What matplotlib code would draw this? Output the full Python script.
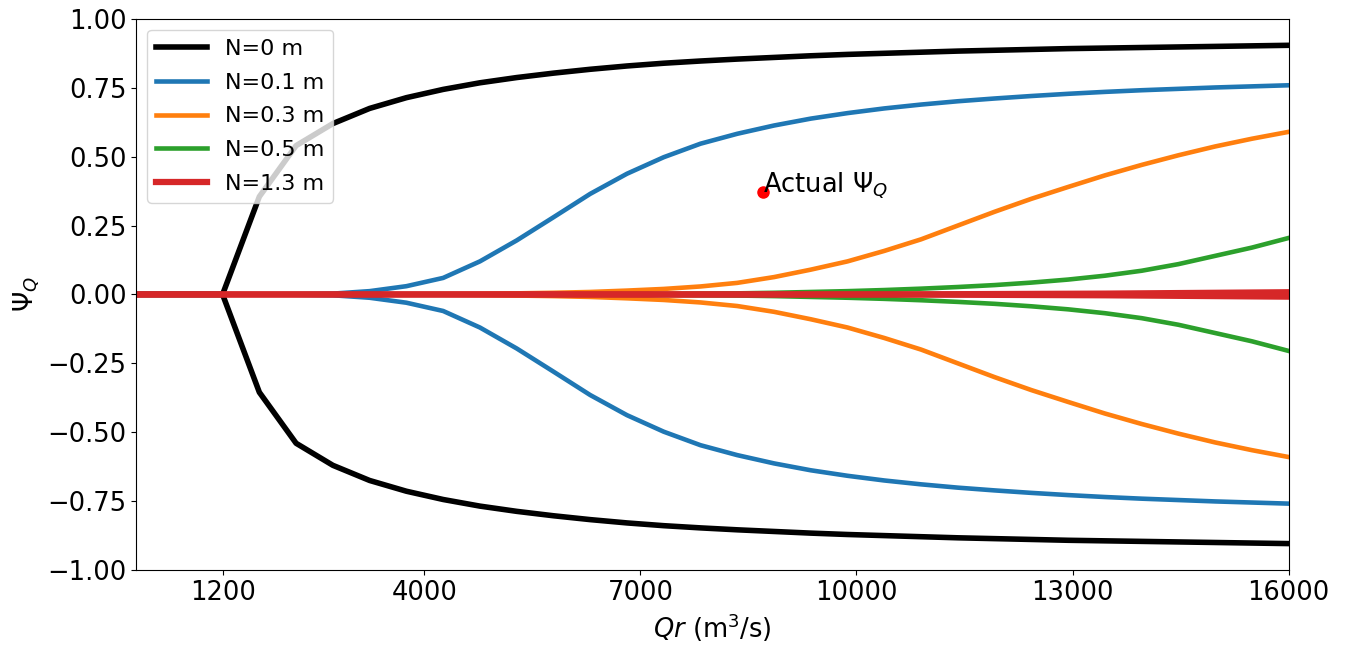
import numpy as np
import matplotlib
matplotlib.use('Agg')
import matplotlib.pyplot as plt

# river discharge grid (m3/s), one leading zero point then evenly spaced from 1200 to 16000
qr = np.concatenate([[0.0], np.linspace(1200, 16000, 30)])

# positive branch of Psi_Q for each N (negative branch is the mirror)
psi_n0 = [0.0, 0.0, 0.355, 0.54, 0.62, 0.675, 0.714, 0.744, 0.768, 0.787, 0.803,
          0.817, 0.829, 0.839, 0.847, 0.854, 0.860, 0.866, 0.871, 0.875, 0.879,
          0.883, 0.886, 0.889, 0.892, 0.894, 0.896, 0.898, 0.900, 0.902, 0.904]
psi_n01 = [0.0, 0.0, 0.0, 0.001, 0.003, 0.012, 0.03, 0.06, 0.12, 0.196, 0.28,
           0.365, 0.438, 0.498, 0.547, 0.583, 0.613, 0.638, 0.658, 0.675, 0.689,
           0.701, 0.711, 0.720, 0.728, 0.735, 0.741, 0.746, 0.751, 0.755, 0.759]
psi_n03 = [0.0, 0.0, 0.0, 0.0, 0.0, 0.0, 0.0005, 0.001, 0.002, 0.004, 0.006,
           0.009, 0.014, 0.02, 0.029, 0.042, 0.063, 0.09, 0.12, 0.158, 0.2,
           0.25, 0.30, 0.347, 0.39, 0.432, 0.47, 0.505, 0.537, 0.565, 0.59]
psi_n05 = [0.0, 0.0, 0.0, 0.0, 0.0, 0.0, 0.0, 0.0, 0.0, 0.0, 0.0,
           0.001, 0.0015, 0.002, 0.003, 0.004, 0.006, 0.009, 0.012, 0.016, 0.021,
           0.027, 0.034, 0.043, 0.054, 0.068, 0.086, 0.11, 0.14, 0.17, 0.205]
psi_n13 = [0.0, 0.0, 0.0, 0.0, 0.0, 0.0, 0.0, 0.0, 0.0, 0.0, 0.0,
           0.0, 0.0, 0.0, 0.0, 0.0, 0.0, 0.0, 0.0, 0.0, 0.0005,
           0.001, 0.0015, 0.002, 0.0025, 0.003, 0.004, 0.005, 0.006, 0.007, 0.008]

labels = ['N=0 m', 'N=0.1 m', 'N=0.3 m', 'N=0.5 m', 'N=1.3 m']
colors = ['black', '#1f77b4', '#ff7f0e', '#2ca02c', '#d62728']
widths = [4.0, 3.3, 3.3, 3.3, 4.5]

actual_q = 8700
actual_psi = 0.37

xtick_vals = [1200, 4000, 7000, 10000, 13000, 16000]

fig, ax = plt.subplots(figsize=(13.48, 6.5), dpi=100)
fig.subplots_adjust(left=0.101, right=0.956, top=0.971, bottom=0.123)

series = [psi_n0, psi_n01, psi_n03, psi_n05, psi_n13]
for psi, lab, col, lw in zip(series, labels, colors, widths):
    psi = np.array(psi)
    ax.plot(qr, psi, color=col, lw=lw, label=lab)
    ax.plot(qr, -psi, color=col, lw=lw)

# actual point
ax.plot(actual_q, actual_psi, 'o', color='red', markersize=8)
ax.text(actual_q, actual_psi, r'Actual $\Psi_Q$', fontsize=18.5)

ax.set_xlim(0, 16000)
ax.set_ylim(-1, 1)
ax.set_xticks(xtick_vals)
ax.set_yticks(np.arange(-1, 1.01, 0.25))
ax.tick_params(labelsize=18.5)
ax.set_xlabel(r'$Qr$ (m$^3$/s)', fontsize=18.5)
ax.set_ylabel(r'$\Psi_Q$', fontsize=18.5)
ax.legend(loc='upper left', fontsize=16, handlelength=2.3, labelspacing=0.62)

plt.savefig('out.png', dpi=100)
